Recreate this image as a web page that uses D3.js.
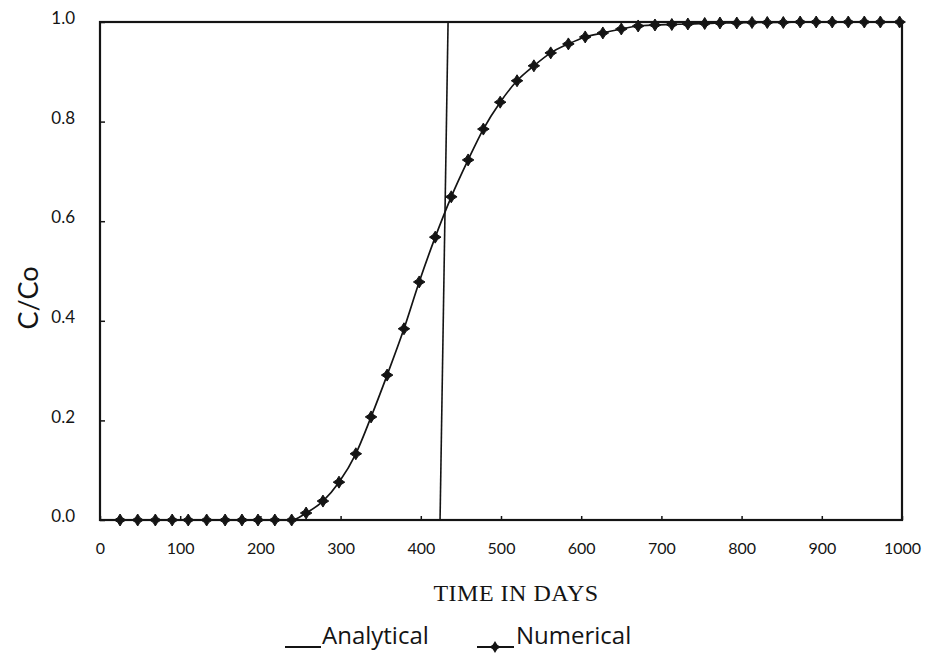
<!DOCTYPE html>
<html>
<head>
<meta charset="utf-8">
<script src="https://cdn.jsdelivr.net/npm/d3@7"></script>
<style>
  body { margin: 0; background: #fff; }
  svg { display: block; }
</style>
</head>
<body>
<script>
// days of each numerical point
var days = [25, 47, 69, 90, 110, 133, 156, 177, 197, 218, 239,
    257, 278, 298, 319, 338, 358, 379, 398, 418, 438, 459, 478, 499,
    520, 541, 562, 584, 605, 627, 650, 671, 692, 713, 733, 754, 773,
    794, 813, 832, 852, 873, 893, 913, 933, 953, 973, 997];
// C/Co at each point
var conc = [0, 0, 0, 0, 0, 0, 0, 0, 0, 0, 0,
    0.014, 0.038, 0.076, 0.133, 0.207, 0.291, 0.384, 0.478, 0.568, 0.649, 0.723, 0.785, 0.839,
    0.882, 0.912, 0.938, 0.956, 0.970, 0.978, 0.986, 0.992, 0.994, 0.995, 0.996, 0.997, 0.998,
    0.998, 0.999, 0.999, 0.999, 1.0, 1.0, 1.0, 1.0, 1.0, 1.0, 1.0];
// the straight vertical stroke across the plot
var vDays = [434, 424];
var vConc = [1, 0];

var xTicks = [0, 100, 200, 300, 400, 500, 600, 700, 800, 900, 1000];
var yTicks = [0, 0.2, 0.4, 0.6, 0.8, 1.0];

var W = 926, H = 659;
var svg = d3.select("body").append("svg")
    .attr("width", W)
    .attr("height", H);

var x = d3.scaleLinear().domain([0, 1000]).range([100, 902]);
var y = d3.scaleLinear().domain([0, 1]).range([520, 22]);

var ink = "#141414";

// frame
svg.append("rect")
    .attr("x", x(0)).attr("y", y(1))
    .attr("width", x(1000) - x(0))
    .attr("height", y(0) - y(1))
    .style("fill", "none")
    .style("stroke", ink)
    .style("stroke-width", "2.2px");

// x axis with small inward ticks
var xAxis = svg.append("g")
    .attr("transform", "translate(0," + y(0) + ")")
    .call(d3.axisBottom(x).tickValues(xTicks).tickSize(-4).tickPadding(27).tickFormat(d3.format("d")));
xAxis.select(".domain").remove();
xAxis.selectAll("line").style("stroke", ink).style("stroke-width", "1.5px");
xAxis.selectAll("text")
    .style("font-family", "Lato, 'Open Sans', sans-serif")
    .style("font-size", "16px")
    .style("fill", ink)
    .attr("dy", "0.45em");

// y axis
var yAxis = svg.append("g")
    .attr("transform", "translate(" + x(0) + ",0)")
    .call(d3.axisLeft(y).tickValues(yTicks).tickSize(-5).tickPadding(25).tickFormat(d3.format(".1f")));
yAxis.select(".domain").remove();
yAxis.selectAll("line").style("stroke", ink).style("stroke-width", "1.5px");
yAxis.selectAll("text")
    .style("font-family", "Lato, 'Open Sans', sans-serif")
    .style("font-size", "17px")
    .style("fill", ink)
    .attr("dy", "0.1em");

// axis titles
svg.append("text")
    .attr("x", 516).attr("y", 601)
    .attr("text-anchor", "middle")
    .style("font-family", "'Liberation Serif', serif")
    .style("font-size", "24px")
    .style("letter-spacing", "0.5px")
    .style("fill", ink)
    .text("TIME IN DAYS");

svg.append("text")
    .attr("transform", "translate(38,298) rotate(-90)")
    .attr("text-anchor", "middle")
    .style("font-family", "Lato, 'Open Sans', sans-serif")
    .style("font-size", "27px")
    .style("fill", ink)
    .text("C/Co");

var pts = days.map(function(d, i) { return [d, conc[i]]; });

// analytical curve
var line = d3.line()
    .x(function(d) { return x(d[0]); })
    .y(function(d) { return y(d[1]); })
    .curve(d3.curveMonotoneX);

svg.append("path")
    .attr("d", line(pts))
    .style("fill", "none")
    .style("stroke", ink)
    .style("stroke-width", "1.7px");

// vertical stroke
svg.append("path")
    .attr("d", d3.line()(vDays.map(function(d, i) { return [x(d), y(vConc[i])]; })))
    .style("fill", "none")
    .style("stroke", ink)
    .style("stroke-width", "1.6px");

// numerical markers: small four-pointed stars
var star = "M0,-6L2.3,-2.3L5.8,0L2.3,2.3L0,6L-2.3,2.3L-5.8,0L-2.3,-2.3Z";

svg.selectAll("path.mark")
    .data(pts)
    .enter()
    .append("path")
    .attr("class", "mark")
    .attr("d", star)
    .attr("transform", function(d) { return "translate(" + x(d[0]) + "," + y(d[1]) + ")"; })
    .style("fill", ink)
    .style("stroke", ink)
    .style("stroke-width", "1px");

// legend
var lg = svg.append("g").attr("class", "legend");
lg.append("line")
    .attr("x1", 285).attr("x2", 321).attr("y1", 647).attr("y2", 647)
    .style("stroke", ink).style("stroke-width", "1.8px");
lg.append("text")
    .attr("x", 322).attr("y", 644)
    .style("font-family", "'Open Sans', Lato, sans-serif")
    .style("font-size", "24px")
    .style("fill", ink)
    .text("Analytical");

lg.append("line")
    .attr("x1", 477).attr("x2", 514).attr("y1", 647).attr("y2", 647)
    .style("stroke", ink).style("stroke-width", "1.8px");
lg.append("path")
    .attr("d", star)
    .attr("transform", "translate(495,647)")
    .style("fill", ink);
lg.append("text")
    .attr("x", 516).attr("y", 644)
    .style("font-family", "'Open Sans', Lato, sans-serif")
    .style("font-size", "24px")
    .style("fill", ink)
    .text("Numerical");
</script>
</body>
</html>
